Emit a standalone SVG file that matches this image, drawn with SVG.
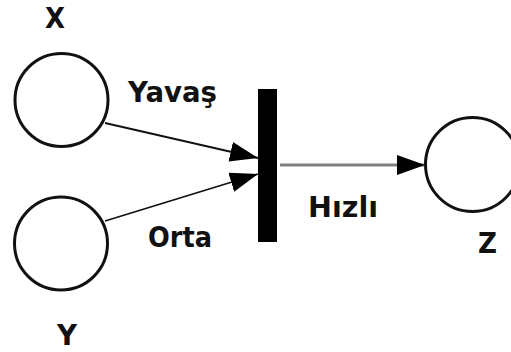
<svg xmlns="http://www.w3.org/2000/svg" width="511" height="352" viewBox="0 0 511 352">
  <style>
    .place { fill: #fff; stroke: #111; stroke-width: 3; }
    .lbl { font-family: "DejaVu Sans", Verdana, sans-serif; font-weight: bold; font-size: 28px; fill: #111; }
    .arc { fill: none; stroke: #111; stroke-width: 1.8; }
    .arc-grey { fill: none; stroke: #808080; stroke-width: 3; }
  </style>
  <defs>
    <marker id="head" markerUnits="userSpaceOnUse" markerWidth="30" markerHeight="22" refX="28" refY="10" orient="auto">
      <path d="M0,0 L28,10 L0,20 Z" fill="#000"/>
    </marker>
  </defs>

  <rect width="511" height="352" fill="#fff"/>

  <g id="connectors">
    <line class="arc" x1="105" y1="123" x2="258" y2="158" marker-end="url(#head)"/>
    <line class="arc" x1="105" y1="221" x2="258" y2="174" marker-end="url(#head)"/>
    <line class="arc-grey" x1="280" y1="165" x2="425" y2="165" marker-end="url(#head)"/>
  </g>

  <g id="place-x">
    <circle class="place" cx="61.5" cy="100" r="46.5"/>
    <text class="lbl" x="55" y="28" text-anchor="middle" textLength="20" lengthAdjust="spacingAndGlyphs">X</text>
  </g>

  <g id="place-y">
    <circle class="place" cx="61" cy="243.5" r="46.5"/>
    <text class="lbl" x="67" y="345" text-anchor="middle" textLength="20" lengthAdjust="spacingAndGlyphs">Y</text>
  </g>

  <g id="place-z">
    <circle class="place" cx="472.5" cy="164.5" r="47"/>
    <text class="lbl" x="487.5" y="253" text-anchor="middle" textLength="19" lengthAdjust="spacingAndGlyphs">Z</text>
  </g>

  <g id="transition">
    <rect x="258" y="89" width="19" height="153" fill="#000"/>
  </g>

  <g id="arc-labels">
    <text class="lbl" x="128" y="102" textLength="89" lengthAdjust="spacingAndGlyphs">Yavaş</text>
    <text class="lbl" x="148" y="247" textLength="64" lengthAdjust="spacingAndGlyphs">Orta</text>
    <text class="lbl" x="308" y="217" textLength="70" lengthAdjust="spacingAndGlyphs">Hızlı</text>
  </g>
</svg>
